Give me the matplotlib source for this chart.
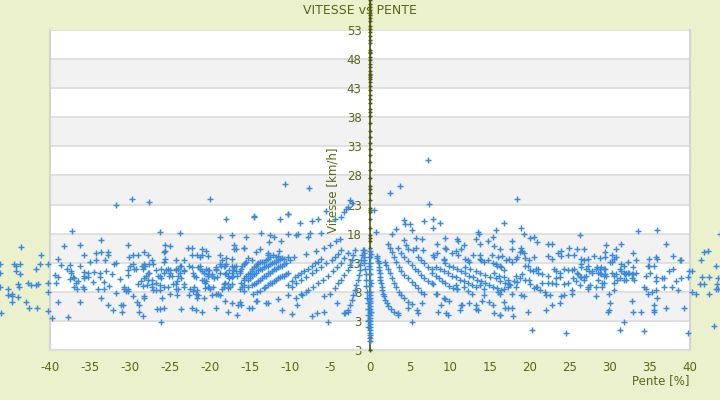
import numpy as np
import matplotlib
matplotlib.use("Agg")
import matplotlib.pyplot as plt

# speed [km/h] vs slope [%]
far_left = [(-43.6, 15.7), (-41.1, 14.4), (-46.2, 12.7), (-44.5, 12.8), (-44.3, 12.4), (-43.7, 12.7),
            (-41.2, 12.7), (-40.2, 12.7), (-44.3, 11.5), (-43.7, 11.1), (-41.8, 11.9), (-46.2, 11.3),
            (-46.2, 8.9), (-45.2, 8.4), (-44.0, 9.3), (-43.9, 8.9), (-42.8, 9.5), (-42.4, 9.2),
            (-41.8, 9.2), (-41.5, 9.3), (-40.3, 9.5), (-44.7, 7.7), (-45.2, 7.4), (-44.7, 7.2),
            (-44.0, 7.1), (-44.8, 6.3), (-43.0, 6.3), (-41.6, 5.3), (-42.6, 5.2), (-40.3, 4.7),
            (-40.3, 7.9), (-46.1, 4.3), (-39.7, 3.5)]

left_outer = [(-31.8, 23.0), (-29.7, 23.9), (-37.3, 18.4), (-38.3, 15.8), (-36.3, 16.0), (-33.6, 16.9),
              (-30.2, 16.0), (-39.0, 13.6), (-35.8, 14.4), (-34.2, 14.6), (-33.6, 14.9), (-32.8, 14.9),
              (-32.8, 14.3), (-34.2, 13.4), (-33.1, 13.4), (-35.0, 13.1), (-32.0, 12.7), (-31.7, 12.9),
              (-30.1, 14.0), (-29.6, 14.4), (-29.0, 14.4), (-28.2, 14.8), (-38.6, 12.6), (-37.5, 12.6),
              (-36.2, 12.4), (-39.4, 10.9), (-39.0, 10.6), (-37.9, 11.9), (-37.4, 11.6), (-37.4, 11.3),
              (-37.5, 10.2), (-37.1, 10.6), (-37.0, 10.4), (-39.3, 9.5), (-36.8, 9.5), (-36.5, 9.8),
              (-37.0, 8.9), (-36.6, 8.5), (-35.8, 11.4), (-35.3, 11.3), (-35.7, 10.7), (-35.7, 10.4),
              (-35.3, 10.6), (-34.5, 11.4), (-33.7, 11.3), (-33.8, 10.6), (-34.6, 9.7), (-33.3, 9.7),
              (-35.9, 8.9), (-35.7, 8.5), (-34.0, 8.4), (-33.2, 8.5), (-32.6, 9.0), (-33.0, 11.6),
              (-32.2, 11.1), (-31.3, 10.2), (-31.8, 7.8), (-30.8, 8.9), (-30.7, 8.5), (-30.5, 8.1),
              (-30.3, 8.5), (-30.2, 8.1), (-30.3, 10.9), (-30.3, 11.8), (-30.0, 12.4), (-29.5, 11.9),
              (-29.6, 12.7), (-29.2, 11.9), (-28.6, 9.8), (-29.0, 9.3), (-28.4, 9.0), (-27.9, 9.2),
              (-28.5, 12.4), (-28.4, 11.9), (-28.3, 12.4), (-29.6, 7.2), (-28.3, 7.2), (-39.0, 6.3),
              (-36.2, 6.3), (-33.6, 6.9), (-32.8, 5.8), (-32.1, 4.8), (-31.1, 5.8), (-30.9, 5.8),
              (-31.0, 4.6), (-29.1, 6.2), (-28.9, 5.8), (-28.9, 4.6), (-28.4, 3.8), (-37.8, 3.6)]

left_mid = [(-27.6, 23.5), (-20.0, 23.9), (-10.6, 26.5), (-18.0, 20.5), (-14.5, 20.9), (-14.5, 21.1),
            (-11.2, 20.6), (-10.3, 21.3), (-26.2, 18.2), (-23.8, 18.1), (-18.8, 17.5), (-17.3, 17.7),
            (-15.5, 17.5), (-13.6, 18.1), (-12.5, 17.7), (-12.0, 17.4), (-11.1, 16.7), (-10.3, 17.9),
            (-12.6, 16.5), (-27.7, 14.3), (-25.6, 16.0), (-25.0, 15.8), (-25.6, 15.0), (-25.7, 14.8),
            (-25.6, 13.6), (-22.8, 15.6), (-22.3, 15.5), (-22.2, 14.4), (-21.6, 14.3), (-21.3, 13.9),
            (-21.0, 15.3), (-20.5, 15.1), (-21.0, 14.3), (-20.3, 14.1), (-18.8, 14.4), (-18.0, 13.8),
            (-17.2, 13.6), (-17.0, 16.0), (-17.0, 15.3), (-16.8, 15.3), (-15.8, 15.5), (-15.7, 15.6),
            (-15.3, 13.8), (-14.7, 13.4), (-13.7, 15.3), (-14.2, 14.8), (-12.8, 14.4), (-12.7, 14.6),
            (-12.1, 14.3), (-11.7, 13.9), (-11.5, 14.1), (-11.4, 15.1), (-11.0, 13.8), (-10.7, 13.6),
            (-10.3, 13.9), (-28.2, 12.7), (-28.1, 12.5), (-27.6, 12.7), (-27.1, 12.7), (-27.2, 13.4),
            (-25.8, 13.1), (-24.2, 13.4), (-23.2, 13.4), (-27.7, 11.3), (-27.6, 11.3), (-26.8, 11.7),
            (-26.1, 11.9), (-25.8, 11.2), (-25.5, 11.7), (-25.2, 11.9), (-25.0, 11.7), (-24.3, 11.7),
            (-24.0, 11.9), (-24.2, 12.0), (-23.8, 12.4), (-23.6, 12.5), (-23.3, 11.5), (-23.2, 11.7),
            (-22.6, 12.5), (-22.3, 12.2), (-22.1, 11.3), (-22.0, 10.7), (-21.7, 10.5), (-21.5, 12.2),
            (-21.3, 12.4), (-21.2, 12.0), (-21.0, 11.5), (-20.7, 11.2), (-20.5, 11.9), (-20.3, 11.7),
            (-20.1, 11.7), (-20.2, 10.8), (-20.3, 11.0), (-19.8, 11.0), (-19.7, 10.7), (-19.3, 12.2),
            (-19.3, 11.7), (-19.2, 11.9), (-19.5, 10.3), (-19.1, 10.5), (-18.8, 11.2), (-18.8, 12.7),
            (-18.6, 12.5), (-18.5, 13.4), (-18.2, 12.4), (-18.1, 12.5), (-18.0, 12.7), (-18.1, 11.0),
            (-18.0, 11.3), (-17.6, 11.7), (-17.2, 12.4), (-17.1, 11.7), (-17.0, 12.2), (-16.8, 12.5),
            (-16.8, 11.5), (-17.7, 10.7), (-17.6, 10.3), (-17.3, 10.5), (-17.8, 9.3), (-17.7, 8.6),
            (-17.5, 8.9), (-17.2, 9.3), (-17.1, 10.8), (-17.2, 11.3),
            (-16.6, 10.8), (-16.3, 11.2), (-16.2, 11.5), (-16.1, 11.9), (-16.0, 12.4), (-15.7, 12.7),
            (-15.6, 12.9), (-15.5, 13.1),
            (-16.1, 9.5), (-15.8, 10.0), (-15.7, 10.3), (-15.5, 10.7), (-15.2, 11.0), (-15.0, 11.2),
            (-14.8, 11.5), (-14.7, 11.9), (-14.5, 12.2), (-14.3, 12.4), (-14.1, 12.7), (-14.0, 12.9),
            (-13.7, 13.1), (-13.5, 13.1), (-13.2, 13.2), (-13.0, 13.4), (-12.7, 13.6), (-12.5, 13.9),
            (-16.2, 8.4), (-16.0, 8.8), (-15.7, 9.1), (-15.3, 8.9),
            (-15.2, 10.0), (-15.0, 10.3), (-14.7, 10.8), (-14.5, 11.0), (-14.2, 11.3), (-14.0, 11.7),
            (-13.7, 11.9), (-13.5, 12.0), (-13.2, 12.2), (-13.0, 12.4), (-12.7, 12.5), (-12.5, 12.7),
            (-12.2, 12.9), (-12.0, 13.1), (-11.7, 13.2), (-11.5, 13.4), (-11.2, 13.6),
            (-14.7, 9.1), (-14.5, 9.3), (-14.2, 9.5), (-14.0, 9.8), (-13.7, 10.1), (-13.5, 10.3),
            (-13.2, 10.7), (-13.0, 10.8), (-12.7, 11.2), (-12.5, 11.3), (-12.2, 11.5), (-12.0, 11.9),
            (-11.7, 12.0), (-11.5, 12.2), (-11.2, 12.4), (-11.0, 12.5), (-10.7, 12.7), (-10.5, 12.9),
            (-14.6, 7.7), (-14.1, 7.9), (-13.7, 8.1), (-13.3, 8.6), (-13.1, 8.8), (-12.7, 9.1),
            (-12.5, 9.5), (-12.2, 9.6), (-12.0, 9.8), (-11.7, 10.1), (-11.5, 10.3), (-11.2, 10.5),
            (-11.0, 10.7), (-10.7, 10.8), (-10.5, 11.0), (-10.3, 11.2),
            (-28.2, 10.3), (-28.0, 10.7), (-27.8, 10.0), (-27.3, 10.1), (-27.3, 8.9), (-27.2, 9.3),
            (-27.1, 8.3), (-26.7, 9.6), (-26.5, 10.8), (-26.3, 10.7), (-26.2, 9.1), (-26.1, 10.3),
            (-26.8, 8.3), (-26.3, 8.3), (-25.8, 8.8), (-25.3, 8.9), (-25.1, 10.7), (-25.0, 11.3),
            (-24.8, 10.8), (-24.6, 9.3), (-24.3, 9.3), (-24.1, 9.8), (-24.0, 10.8), (-23.8, 11.3),
            (-23.6, 10.3), (-23.3, 8.9), (-23.2, 9.3), (-24.2, 8.4), (-24.0, 8.4), (-24.1, 7.4),
            (-22.6, 7.4), (-22.5, 8.4), (-22.1, 8.1), (-22.0, 8.8), (-21.6, 8.3), (-21.5, 7.4),
            (-21.7, 7.7), (-21.0, 10.0), (-20.7, 10.0), (-20.6, 9.5), (-20.5, 9.8), (-20.3, 10.8),
            (-20.6, 8.6), (-20.3, 8.8), (-20.1, 8.9), (-20.0, 8.4), (-19.7, 7.4), (-19.6, 8.9),
            (-19.2, 7.7), (-19.0, 7.6), (-18.7, 7.4), (-18.5, 8.4), (-18.3, 8.8), (-18.2, 9.3),
            (-18.1, 9.5), (-28.2, 7.0), (-26.0, 6.9), (-25.0, 7.6), (-26.6, 5.0), (-26.3, 5.0),
            (-25.7, 5.2), (-23.6, 5.0), (-22.2, 5.3), (-21.8, 4.8), (-21.0, 4.5), (-21.6, 7.0),
            (-20.7, 6.9), (-19.3, 5.3), (-18.1, 6.4), (-17.7, 4.5), (-17.2, 6.0), (-16.6, 4.0),
            (-16.5, 5.8), (-16.3, 6.2), (-16.1, 5.7), (-15.7, 8.1), (-15.1, 5.2), (-14.7, 5.3),
            (-14.2, 6.4), (-14.1, 6.4), (-13.0, 6.0), (-12.7, 6.0), (-11.5, 6.7), (-11.0, 4.8),
            (-10.3, 7.4), (-26.1, 2.8)]

center_left = [(-10.2, 9.2), (-9.8, 9.9), (-9.4, 10.5), (-9.0, 10.9), (-8.6, 11.3), (-8.2, 11.6),
               (-7.8, 12.0), (-7.3, 12.4), (-6.9, 12.9), (-6.5, 13.2), (-6.1, 13.6),
               (-9.8, 8.9), (-9.2, 9.5), (-8.6, 10.0), (-8.0, 10.6), (-7.3, 11.2), (-6.7, 11.7),
               (-6.1, 12.3), (-5.5, 12.9), (-4.8, 13.5), (-4.4, 13.9), (-4.0, 14.5), (-3.6, 15.2),
               (-8.6, 7.7), (-7.8, 8.3), (-7.1, 8.9), (-6.5, 9.5), (-5.9, 10.0), (-5.3, 10.7),
               (-4.6, 11.5), (-4.1, 12.2), (-3.6, 12.9), (-3.2, 13.8), (-2.8, 14.6),
               (-5.7, 7.2), (-5.0, 7.7), (-4.4, 8.6), (-4.0, 9.5), (-3.6, 10.1), (-3.2, 10.9),
               (-2.8, 11.7), (-2.5, 12.6), (-2.3, 13.5), (-2.1, 14.3), (-1.9, 15.2),
               (-3.2, 4.3), (-2.8, 4.9), (-2.5, 5.7), (-2.3, 6.6), (-2.1, 7.5), (-1.9, 8.3),
               (-1.7, 9.2), (-1.5, 10.0), (-1.4, 10.9), (-1.3, 11.7), (-1.2, 12.6), (-1.1, 13.5),
               (-1.0, 14.3), (-0.9, 15.2),
               (-0.75, 15.2), (-0.75, 14.6), (-0.75, 14.0), (-0.75, 13.5), (-0.7, 12.9), (-0.6, 12.0),
               (-0.55, 11.0), (-0.5, 10.0), (-0.45, 9.0), (-0.4, 8.0), (-0.35, 7.0), (-0.3, 6.0),
               (-0.3, 5.0), (-0.25, 4.0), (-0.2, 3.0), (-0.2, 2.0),
               (-9.1, 5.7), (-7.2, 3.8), (-6.6, 4.3), (-5.8, 4.5), (-5.2, 2.8), (-4.1, 6.1),
               (-3.1, 4.3), (-2.8, 4.6), (-9.7, 4.2), (-9.3, 6.9), (-8.5, 7.5), (-8.0, 7.9),
               (-7.6, 25.8), (-10.2, 21.4), (-8.7, 19.8), (-7.2, 20.2), (-6.5, 20.6), (-5.5, 21.9),
               (-3.3, 21.8), (-3.0, 22.3), (-2.7, 22.6), (-2.2, 23.2), (-2.5, 23.7), (-3.6, 20.9),
               (-4.4, 20.6), (-9.3, 17.8), (-9.0, 18.0), (-7.5, 18.1), (-7.7, 17.4), (-6.1, 18.1),
               (-4.3, 16.7), (-3.7, 17.0), (-5.0, 16.0), (-5.8, 15.5), (-6.8, 15.0), (-8.0, 14.5),
               (-9.5, 14.0), (-10.0, 13.5)]

center_zero = [(0.0, -0.5), (0.0, 0.0), (0.0, 0.5), (0.0, 1.0), (0.0, 1.5), (0.0, 2.0), (0.0, 2.5),
               (0.0, 3.0), (0.0, 3.5), (0.0, 4.0), (0.0, 4.5), (0.0, 5.0), (0.0, 5.5), (0.0, 6.0),
               (0.0, 6.5), (0.0, 7.0), (0.0, 7.5), (0.0, 8.0), (0.0, 9.0), (0.0, 10.0), (0.0, 11.0),
               (0.0, 12.0), (0.0, 13.0), (0.0, 14.0), (0.0, 15.0), (-0.1, 3.2), (0.1, 4.6),
               (-0.1, 6.8), (0.1, 9.5), (-0.1, 12.5), (0.1, 14.5)]

center_right = [(0.9, 14.2), (0.9, 13.8), (1.0, 13.3), (1.1, 12.9), (1.1, 12.3), (1.15, 11.7),
                (1.2, 11.2), (1.25, 10.6), (1.3, 10.0), (1.4, 9.5), (1.45, 8.9), (1.55, 8.3),
                (1.65, 7.7), (1.75, 7.2), (1.9, 6.6), (2.1, 6.1), (2.3, 5.6), (2.6, 5.0), (3.0, 4.6),
                (3.5, 4.1),
                (1.9, 13.2), (2.0, 12.6), (2.25, 12.0), (2.5, 11.2), (2.7, 10.3), (3.0, 9.5),
                (3.3, 8.8), (3.6, 8.0), (3.9, 7.5), (4.3, 6.9), (4.75, 6.3), (5.2, 5.9),
                (2.25, 16.3), (2.5, 15.5), (2.7, 14.9), (3.0, 14.0), (3.3, 13.2), (3.6, 12.3),
                (3.9, 11.6), (4.3, 10.9), (4.75, 10.3), (5.2, 9.7), (5.6, 9.2), (6.0, 8.6),
                (6.4, 8.0), (6.8, 7.6),
                (3.5, 15.5), (3.9, 14.6), (4.3, 13.9), (4.75, 13.3), (5.2, 12.6), (5.6, 12.0),
                (6.0, 11.5), (6.4, 10.9), (6.8, 10.3), (7.25, 9.9), (7.7, 9.5),
                (4.3, 16.9), (4.5, 16.0), (4.8, 15.4), (5.4, 15.2), (6.0, 14.0), (6.4, 13.5),
                (6.8, 12.9), (7.25, 12.3), (7.7, 11.9),
                (0.5, 22.0), (0.7, 18.3), (2.5, 24.9), (3.8, 26.2), (7.2, 30.6), (7.4, 23.1),
                (6.8, 20.2), (4.2, 20.4), (4.4, 19.6), (5.0, 19.6), (5.3, 18.6), (3.3, 18.8),
                (2.8, 17.9), (5.8, 17.2), (6.5, 17.0), (5.75, 15.5), (6.6, 15.2), (4.75, 5.2),
                (5.3, 2.8), (5.9, 4.9), (6.5, 6.0), (3.5, 4.3), (6.0, 4.3)]

right_mid = [(18.4, 23.9), (7.9, 20.5), (8.7, 19.9), (16.8, 19.8), (7.9, 18.9), (18.9, 18.9),
             (15.8, 18.7), (13.5, 18.2), (13.6, 18.0), (15.4, 17.5), (19.3, 17.9), (20.0, 17.2),
             (20.5, 17.4), (20.9, 16.5), (9.4, 17.2), (10.9, 17.0), (11.0, 16.8), (13.2, 17.0),
             (14.7, 16.8), (17.7, 16.8), (8.4, 16.2), (11.7, 16.0), (13.7, 16.3), (15.5, 15.8),
             (18.9, 15.6), (22.3, 16.2), (22.8, 16.2), (24.9, 15.5), (9.4, 15.6), (9.5, 15.4),
             (11.4, 15.3), (16.3, 15.3), (17.8, 15.3),
             (7.9, 14.3), (8.0, 13.9), (8.4, 14.6), (9.2, 13.7), (9.3, 13.4), (10.2, 14.6),
             (10.8, 15.0), (11.0, 14.4), (11.9, 13.6), (12.2, 13.4), (12.4, 13.2), (12.9, 14.4),
             (13.8, 14.4), (13.7, 13.7), (13.9, 13.4), (14.2, 13.1), (14.7, 13.4), (15.3, 14.4),
             (15.4, 12.9), (15.7, 12.7), (15.9, 12.5), (16.2, 12.4), (16.4, 12.2), (16.7, 11.8),
             (16.0, 13.9), (16.5, 14.1), (17.0, 13.4), (17.4, 13.6), (17.8, 13.2), (18.2, 13.6),
             (18.8, 14.8), (19.0, 15.0), (19.3, 14.6), (18.4, 13.9), (19.4, 13.8), (19.9, 13.4),
             (20.5, 13.9), (21.0, 12.0), (22.2, 14.1), (22.8, 13.6), (23.5, 14.6), (23.9, 14.1),
             (23.9, 15.0), (24.8, 14.3), (25.5, 14.4),
             (7.75, 11.2), (8.2, 10.7), (8.6, 10.3), (9.0, 9.9), (9.4, 9.5), (9.9, 9.0), (10.4, 8.7),
             (10.9, 8.4),
             (8.3, 12.2), (8.8, 11.9), (9.3, 11.5), (9.8, 11.2), (10.3, 10.8), (10.8, 10.5),
             (11.3, 10.1), (11.8, 9.8), (12.3, 9.5), (12.8, 9.1), (13.3, 8.8),
             (9.4, 12.9), (9.9, 12.5), (10.4, 12.2), (10.9, 11.9), (11.4, 11.5), (11.9, 11.2),
             (12.4, 10.8), (12.9, 10.5), (13.4, 10.1), (13.9, 9.8), (14.4, 9.5), (14.9, 9.1),
             (15.4, 8.9), (15.9, 8.6), (16.4, 8.3),
             (11.9, 12.3), (12.5, 12.0), (13.2, 11.6), (13.8, 11.3), (14.4, 10.9), (15.0, 10.6),
             (15.7, 10.3), (16.3, 9.9), (16.9, 9.6), (17.5, 9.2), (18.2, 8.9),
             (15.5, 11.2), (16.1, 10.8), (16.7, 10.5), (17.3, 10.1), (18.0, 9.8),
             (7.9, 9.3), (8.2, 7.7), (8.4, 7.6), (9.2, 7.0), (9.4, 6.7), (9.9, 6.5), (8.9, 5.8),
             (8.5, 4.6), (9.5, 4.3), (9.8, 4.1), (11.4, 5.7), (11.5, 5.8), (11.2, 4.8), (12.4, 6.0),
             (13.2, 5.8), (13.2, 5.0), (13.5, 4.8), (14.0, 6.4), (14.2, 7.4), (14.9, 6.2),
             (15.4, 5.8), (15.5, 4.3), (16.2, 4.1), (16.3, 4.1), (16.8, 6.2), (16.9, 5.3),
             (17.2, 5.3), (17.8, 5.2), (17.9, 3.8), (17.7, 7.7), (18.9, 7.4), (19.3, 7.2),
             (19.8, 4.6), (20.2, 1.5), (20.8, 8.8), (21.3, 8.3), (21.9, 7.9), (22.0, 7.4),
             (22.5, 7.4), (22.7, 5.7), (22.0, 4.8), (23.8, 6.0), (23.9, 7.2), (24.3, 7.4),
             (24.5, 0.9), (25.3, 8.3), (25.2, 7.6), (20.0, 9.3), (20.5, 8.6), (20.9, 8.9),
             (21.5, 9.5), (22.2, 9.5), (22.8, 9.5), (23.2, 10.3), (23.3, 9.3), (23.8, 10.5),
             (24.3, 9.3), (24.8, 9.5), (25.4, 10.3), (25.7, 9.8), (21.0, 11.2), (21.5, 11.0),
             (22.3, 10.8), (23.0, 11.9), (23.3, 11.5), (23.7, 11.2), (24.3, 11.9), (24.8, 11.7),
             (25.3, 11.7), (25.5, 12.0), (20.0, 11.7), (20.4, 11.5), (19.4, 12.4), (19.8, 12.5),
             (20.8, 12.0), (18.3, 10.8), (18.7, 10.3), (19.0, 11.0), (19.4, 10.1), (19.9, 10.1),
             (18.4, 9.7), (17.4, 9.3), (17.2, 8.8), (16.7, 8.4), (16.0, 7.9), (16.3, 7.7),
             (14.2, 8.4), (13.7, 9.1), (12.7, 7.7), (12.2, 8.1), (11.8, 8.9), (10.9, 8.4),
             (10.7, 9.1)]

right_outer = [(33.5, 18.4), (35.9, 18.6), (26.3, 17.7), (37.0, 16.3), (25.9, 15.3), (26.7, 15.3),
               (29.5, 16.0), (31.4, 16.2), (30.8, 15.3), (32.9, 14.6), (37.9, 14.1), (38.7, 13.4),
               (38.9, 13.4), (29.4, 14.8), (29.4, 13.9), (30.3, 14.3), (30.7, 13.9), (30.5, 13.6),
               (28.0, 14.1), (28.8, 13.8), (26.4, 13.6), (26.8, 13.4), (27.3, 13.6), (26.4, 12.7),
               (26.4, 12.2), (30.0, 13.2), (30.3, 13.2), (31.4, 12.7), (31.8, 12.5), (32.2, 13.1),
               (33.2, 13.4), (34.9, 13.6), (35.8, 13.9), (35.9, 13.6), (34.7, 12.5), (34.9, 12.5),
               (35.5, 12.5), (37.9, 11.9), (31.3, 12.0), (32.9, 12.2), (27.0, 12.0), (27.3, 12.4),
               (28.2, 12.0), (28.4, 12.2), (28.7, 12.0), (28.9, 12.2), (29.2, 11.9), (29.4, 11.9),
               (27.7, 11.3), (27.8, 11.6), (25.9, 11.2), (26.0, 11.0), (26.3, 10.5), (26.4, 10.5),
               (26.7, 10.1), (26.8, 10.6), (27.0, 10.8), (27.4, 11.5), (28.5, 11.3), (28.8, 11.2),
               (28.9, 11.0), (29.2, 10.8), (29.4, 11.0), (29.5, 10.8), (28.5, 10.1), (29.0, 9.6),
               (29.2, 9.5), (29.0, 8.8), (30.3, 11.2), (30.5, 10.8), (30.7, 11.0), (30.9, 10.1),
               (31.3, 10.3), (31.4, 11.5), (31.7, 11.3), (31.9, 11.0), (32.0, 11.3), (32.2, 11.2),
               (32.4, 11.2), (32.7, 11.0), (32.9, 11.0), (33.3, 11.3), (31.8, 10.0), (32.0, 10.1),
               (32.7, 10.3), (33.0, 10.0), (30.5, 9.5), (34.5, 10.8), (35.7, 10.6), (35.7, 9.8),
               (35.0, 11.3), (36.5, 10.3), (36.8, 10.3), (37.4, 11.5), (38.3, 9.8), (38.9, 10.3),
               (39.8, 10.6), (39.9, 11.5), (26.3, 9.1), (27.2, 8.4), (27.3, 8.8), (27.5, 9.1),
               (28.2, 8.9), (28.2, 7.2), (29.9, 7.7), (30.5, 8.3), (30.0, 6.0), (29.7, 4.5),
               (29.9, 4.8), (31.7, 2.8), (31.2, 1.5), (32.7, 6.4), (32.9, 4.5), (33.9, 4.6),
               (34.3, 1.2), (34.3, 8.9), (34.5, 8.4), (34.7, 7.7), (35.3, 7.9), (35.7, 8.3),
               (35.9, 6.9), (35.5, 5.8), (35.5, 4.8), (35.5, 4.5), (36.7, 8.9), (37.0, 5.3),
               (37.8, 8.8), (38.5, 8.3), (39.3, 5.3), (39.8, 1.0)]

far_right = [(40.2, 11.5), (43.7, 18.0), (41.8, 14.8), (42.3, 15.0), (41.4, 13.4), (43.3, 12.4),
             (41.5, 10.5), (42.4, 10.6), (43.5, 10.3), (41.2, 9.3), (41.8, 9.3), (43.4, 9.3),
             (43.2, 8.4), (43.5, 8.4), (40.2, 7.9), (40.8, 7.7), (42.4, 7.7), (43.0, 2.1)]

# zero-slope samples drawn as the dark vertical trace
zero_speed = [-2.0, -0.5, 0.3, 2.0, 5.0, 8.0, 11.0, 14.0, 15.5, 16.8, 17.2, 17.8, 19.0, 20.5,
              21.7, 22.1, 22.4, 23.8, 25.0, 25.6, 26.2, 27.6, 29.0, 30.3, 31.5, 32.5, 33.5,
              34.6, 35.7, 37.0, 38.2, 38.9, 39.4, 40.5, 41.2, 41.9, 42.7, 43.4, 44.0, 44.6,
              44.9, 45.2, 45.5, 46.0, 46.6, 47.2, 47.8, 48.4, 49.0, 49.3, 49.6, 50.7, 51.3,
              52.0, 52.6, 53.2, 53.7, 54.5, 55.0, 55.5, 56.0, 56.5, 57.0, 57.5, 58.2]

y_ticks = [-2, 3, 8, 13, 18, 23, 28, 33, 38, 43, 48, 53]
y_tick_labels = ["3", "3", "8", "13", "18", "23", "28", "33", "38", "43", "48", "53"]
x_ticks = list(range(-40, 41, 5))

BG = "#ebf0cd"
TXT = "#5c6516"
DARK = "#4e560b"
BLUE = "#3a89da"

pts = np.array(far_left + left_outer + left_mid + center_left + center_zero
               + center_right + right_mid + right_outer + far_right)

fig = plt.figure(figsize=(7.2, 4), dpi=100, facecolor=BG)
ax = fig.add_axes([50 / 720, 50 / 400, 640 / 720, 320 / 400])
ax.set_facecolor("white")
ax.set_xlim(-40, 40)
ax.set_ylim(y_ticks[0], y_ticks[-1])

# alternating bands
for i in range(1, len(y_ticks) - 1, 2):
    ax.axhspan(y_ticks[i], y_ticks[i + 1], color="#f2f2f2", zorder=0, lw=0)
ax.set_yticks(y_ticks)
ax.set_yticklabels(y_tick_labels)
ax.set_xticks(x_ticks)
ax.set_xticklabels([str(t) for t in x_ticks])
ax.set_axisbelow(True)
ax.yaxis.grid(True, color="#dcdcdc", lw=1.2)

ax.spines["left"].set_position(("data", 0))
ax.spines["left"].set_color("none")
ax.spines["top"].set_color("none")
ax.spines["right"].set_color("#d4d4d4")
ax.spines["right"].set_linewidth(1.5)
ax.spines["bottom"].set_color("#dddddd")
ax.spines["bottom"].set_linewidth(1.5)
ax.plot([0, 0], [0, 1], transform=ax.transAxes, color="#d4d4d4", lw=1.5, clip_on=False)

ax.tick_params(axis="y", length=0, pad=6, labelcolor=TXT, labelsize=8.5)
ax.tick_params(axis="x", length=0, pad=8, labelcolor=TXT, labelsize=8.5)

ax.plot(np.zeros(len(zero_speed)), zero_speed, color=DARK, lw=1.2, marker="+", ms=3.5,
        mew=1.0, clip_on=False, zorder=3)
ax.plot(pts[:, 0], pts[:, 1], linestyle="none", marker="+", ms=4, mew=1.05, color=BLUE,
        clip_on=False, zorder=4)

ax.set_ylabel("Vitesse [km/h]", color=TXT, fontsize=8.5)
ax.yaxis.set_label_coords(0.452, 0.5)

fig.text(0.5, 1 - 10 / 400, "VITESSE vs PENTE", ha="center", va="center", color=TXT, fontsize=9)
fig.text(689 / 720, 1 - 381 / 400, "Pente [%]", ha="right", va="center", color=TXT, fontsize=8.5)

fig.savefig("out.png", dpi=100, facecolor=BG)
